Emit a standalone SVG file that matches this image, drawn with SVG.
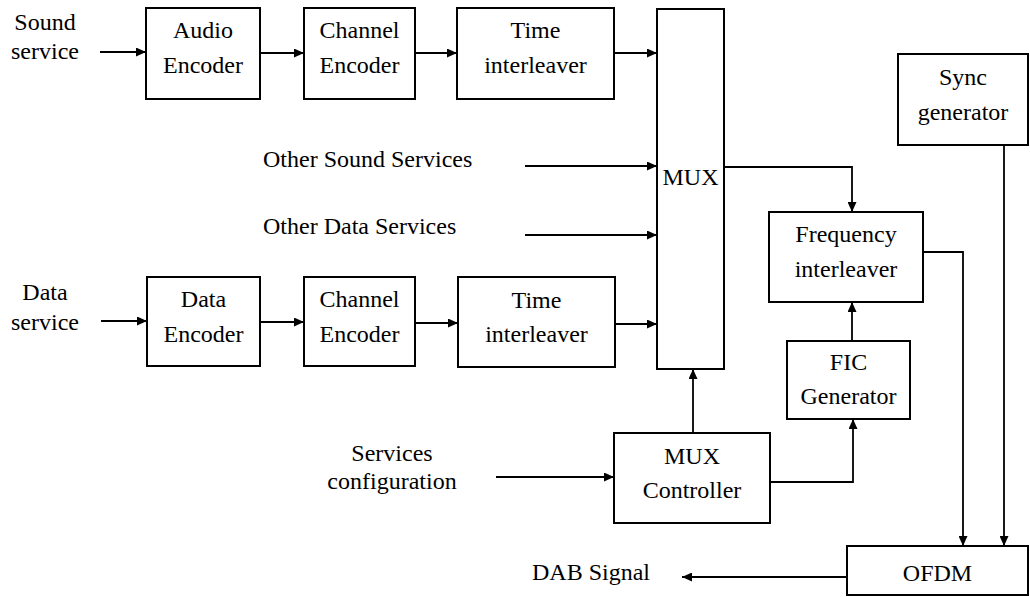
<svg xmlns="http://www.w3.org/2000/svg" width="1030" height="597" viewBox="0 0 1030 597">
<style>
.box{fill:#fff;stroke:#000;stroke-width:2}
.t{font-family:"Liberation Serif","Times New Roman",serif;font-size:24px;fill:#000}
.m{text-anchor:middle}
.c{fill:none;stroke:#000;stroke-width:1.8}
</style>
<defs>
<marker id="ah" markerUnits="userSpaceOnUse" markerWidth="11" markerHeight="9" refX="10" refY="4.5" orient="auto">
<path d="M0,0 L10,4.5 L0,9 z" fill="#000"/>
</marker>
</defs>
<rect width="1030" height="597" fill="#fff"/>
<g id="connectors">
<path class="c" d="M100,52 H146" marker-end="url(#ah)"/>
<path class="c" d="M260,53 H304" marker-end="url(#ah)"/>
<path class="c" d="M415,53 H457" marker-end="url(#ah)"/>
<path class="c" d="M614,53 H657" marker-end="url(#ah)"/>
<path class="c" d="M525,166 H657" marker-end="url(#ah)"/>
<path class="c" d="M525,235 H657" marker-end="url(#ah)"/>
<path class="c" d="M101,321 H147" marker-end="url(#ah)"/>
<path class="c" d="M260,322 H304" marker-end="url(#ah)"/>
<path class="c" d="M415,323 H458" marker-end="url(#ah)"/>
<path class="c" d="M615,324 H657" marker-end="url(#ah)"/>
<path class="c" d="M724,167 H852 V212" marker-end="url(#ah)"/>
<path class="c" d="M852,341 V302" marker-end="url(#ah)"/>
<path class="c" d="M693,433 V369" marker-end="url(#ah)"/>
<path class="c" d="M770,482 H853 V419" marker-end="url(#ah)"/>
<path class="c" d="M496,477 H614" marker-end="url(#ah)"/>
<path class="c" d="M923,252 H963 V546" marker-end="url(#ah)"/>
<path class="c" d="M1004,145 V546" marker-end="url(#ah)"/>
<path class="c" d="M847,577 H682" marker-end="url(#ah)"/>
</g>
<g id="label-sound">
<text class="t m" x="45" y="30">Sound</text>
<text class="t m" x="45" y="59">service</text>
</g>
<g id="audio-encoder">
<rect class="box" x="146" y="8" width="114" height="91"/>
<text class="t m" x="203" y="38">Audio</text>
<text class="t m" x="203" y="73">Encoder</text>
</g>
<g id="channel-encoder-1">
<rect class="box" x="304" y="8" width="111" height="91"/>
<text class="t m" x="359.5" y="38">Channel</text>
<text class="t m" x="359.5" y="73">Encoder</text>
</g>
<g id="time-interleaver-1">
<rect class="box" x="457" y="8" width="157" height="91"/>
<text class="t m" x="535.5" y="38">Time</text>
<text class="t m" x="535.5" y="73">interleaver</text>
</g>
<g id="mux">
<rect class="box" x="657" y="9" width="67" height="360"/>
<text class="t m" x="690.5" y="185">MUX</text>
</g>
<g id="sync-generator">
<rect class="box" x="898" y="54" width="130" height="91"/>
<text class="t m" x="963" y="85">Sync</text>
<text class="t m" x="963" y="120">generator</text>
</g>
<g id="label-other-sound">
<text class="t" x="263" y="167">Other Sound Services</text>
</g>
<g id="label-other-data">
<text class="t" x="263" y="234">Other Data Services</text>
</g>
<g id="frequency-interleaver">
<rect class="box" x="769" y="212" width="154" height="90"/>
<text class="t m" x="846" y="242">Frequency</text>
<text class="t m" x="846" y="277">interleaver</text>
</g>
<g id="label-data">
<text class="t m" x="45" y="300">Data</text>
<text class="t m" x="45" y="330">service</text>
</g>
<g id="data-encoder">
<rect class="box" x="147" y="277" width="113" height="89"/>
<text class="t m" x="203.5" y="307">Data</text>
<text class="t m" x="203.5" y="342">Encoder</text>
</g>
<g id="channel-encoder-2">
<rect class="box" x="304" y="277" width="111" height="89"/>
<text class="t m" x="359.5" y="307">Channel</text>
<text class="t m" x="359.5" y="342">Encoder</text>
</g>
<g id="time-interleaver-2">
<rect class="box" x="458" y="277" width="157" height="90"/>
<text class="t m" x="536.5" y="308">Time</text>
<text class="t m" x="536.5" y="342">interleaver</text>
</g>
<g id="fic-generator">
<rect class="box" x="787" y="341" width="123" height="78"/>
<text class="t m" x="848.5" y="370">FIC</text>
<text class="t m" x="848.5" y="404">Generator</text>
</g>
<g id="label-services-config">
<text class="t m" x="392" y="461">Services</text>
<text class="t m" x="392" y="489">configuration</text>
</g>
<g id="mux-controller">
<rect class="box" x="614" y="433" width="156" height="90"/>
<text class="t m" x="692" y="464">MUX</text>
<text class="t m" x="692" y="498">Controller</text>
</g>
<g id="ofdm">
<rect class="box" x="847" y="546" width="181" height="49"/>
<text class="t m" x="937.5" y="581">OFDM</text>
</g>
<g id="label-dab">
<text class="t" x="532" y="580">DAB Signal</text>
</g>
</svg>
